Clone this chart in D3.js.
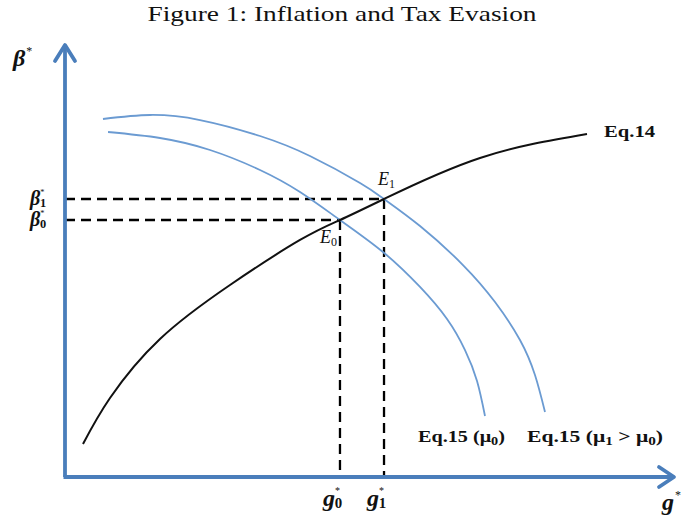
<!DOCTYPE html>
<html>
<head>
<meta charset="utf-8">
<script src="https://cdn.jsdelivr.net/npm/d3@7"></script>
<style>
  body { margin: 0; background: #fff; }
  svg { display: block; }
  .lbl { font-family: "Liberation Serif", "DejaVu Serif", serif; font-weight: bold; fill: #111; }
</style>
</head>
<body>
<svg id="chart" width="682" height="519"></svg>
<script>
// curves in abstract units (0..100 on each axis)
const eq14 = [[3,7.67],[7.5,18.37],[15.83,32.09],[27.5,44.65],[39.17,55.12],[45.83,59.77],[53.17,64.65],[69.17,74.19],[87,79.77]];
const eq15mu0 = [[7.17,80.23],[15.83,78.84],[24.17,76.05],[32.5,71.4],[39.17,66.28],[45.83,59.77],[53,52.33],[59.17,44.19],[63.67,36.74],[66.67,29.53],[68.67,22.33],[70,14.19]];
const eq15mu1 = [[6.33,83.26],[14.17,84.19],[22.5,83.02],[32.5,79.3],[40.83,74.65],[49.17,68.37],[53.17,64.65],[59.17,58.37],[66.33,49.3],[71.67,40.7],[75.83,31.86],[78.33,23.72],[80,15.12]];
const equilibria = [{name: "0", g: 45.83, b: 59.77}, {name: "1", g: 53.17, b: 64.65}];
const title = "Figure 1: Inflation and Tax Evasion";

const svg = d3.select("#chart");
const x = d3.scaleLinear().domain([0, 100]).range([65, 665]);
const y = d3.scaleLinear().domain([0, 100]).range([477, 47]);

svg.append("text")
  .attr("x", 342).attr("y", 21)
  .attr("text-anchor", "middle")
  .attr("textLength", 389).attr("lengthAdjust", "spacingAndGlyphs")
  .style("font-family", "'Liberation Serif', serif")
  .style("font-size", "22px")
  .style("fill", "#111")
  .text(title);

const line = d3.line().x(d => x(d[0])).y(d => y(d[1])).curve(d3.curveNatural);

// dashed guides
equilibria.forEach(e => {
  svg.append("line")
    .attr("x1", x(0)).attr("x2", x(e.g))
    .attr("y1", y(e.b)).attr("y2", y(e.b))
    .attr("stroke", "#000").attr("stroke-width", 2.3).attr("stroke-dasharray", "10,6");
  svg.append("line")
    .attr("x1", x(e.g)).attr("x2", x(e.g))
    .attr("y1", y(e.b)).attr("y2", y(0))
    .attr("stroke", "#000").attr("stroke-width", 2.3).attr("stroke-dasharray", "10,6");
});

svg.append("path").datum(eq15mu0).attr("d", line)
  .attr("fill", "none").attr("stroke", "#6b9bd2").attr("stroke-width", 1.8);
svg.append("path").datum(eq15mu1).attr("d", line)
  .attr("fill", "none").attr("stroke", "#6b9bd2").attr("stroke-width", 1.8);
svg.append("path").datum(eq14).attr("d", line)
  .attr("fill", "none").attr("stroke", "#111").attr("stroke-width", 2);

// axes
const axCol = "#4a7ebb";
svg.append("line").attr("x1", x(0)).attr("y1", y(0)).attr("x2", x(0)).attr("y2", y(100) - 2)
  .attr("stroke", axCol).attr("stroke-width", 3.8);
svg.append("line").attr("x1", x(0) - 1.5).attr("y1", y(0)).attr("x2", x(101.5)).attr("y2", y(0))
  .attr("stroke", axCol).attr("stroke-width", 3.8);
svg.append("polyline")
  .attr("points", [[x(0) - 10, y(100) + 14], [x(0), y(100) - 2], [x(0) + 10, y(100) + 14]].join(" "))
  .attr("fill", "none").attr("stroke", axCol).attr("stroke-width", 3.8).attr("stroke-linejoin", "round").attr("stroke-linecap", "round");
svg.append("polyline")
  .attr("points", [[x(101.5) - 15, y(0) - 10], [x(101.5), y(0)], [x(101.5) - 15, y(0) + 10]].join(" "))
  .attr("fill", "none").attr("stroke", axCol).attr("stroke-width", 3.8).attr("stroke-linejoin", "round").attr("stroke-linecap", "round");

// symbols with star and optional subscript
function sym(px, py, base, sub, size) {
  const t = svg.append("text").attr("class", "lbl").attr("x", px).attr("y", py)
    .style("font-size", size + "px").style("font-style", "italic");
  t.append("tspan").text(base);
  if (sub !== null) {
    t.append("tspan").attr("dx", 0).attr("dy", -size * 0.5).style("font-size", (size * 0.42) + "px").style("font-style", "normal").style("font-weight", "normal").text("*");
    t.append("tspan").attr("dx", -size * 0.22).attr("dy", size * 0.58).style("font-size", (size * 0.62) + "px").style("font-style", "normal").text(sub);
  } else {
    t.append("tspan").attr("dx", 1).attr("dy", -size * 0.45).style("font-size", (size * 0.5) + "px").style("font-style", "normal").style("font-weight", "normal").text("*");
  }
  return t;
}
sym(13, 66, "β", null, 24);
sym(662, 510, "g", null, 24);

equilibria.forEach(e => {
  sym(30, y(e.b) + 6, "β", e.name, 20);
  sym(x(e.g) - 17, 506, "g", e.name, 24);
});

// equilibrium labels
const eLab = [{e: equilibria[1], dx: -6, dy: -14}, {e: equilibria[0], dx: -20, dy: 23}];
eLab.forEach(o => {
  const t = svg.append("text").attr("class", "lbl")
    .attr("x", x(o.e.g) + o.dx).attr("y", y(o.e.b) + o.dy)
    .style("font-size", "18px").style("font-style", "italic").style("font-weight", "normal");
  t.append("tspan").text("E");
  t.append("tspan").attr("dy", 3).style("font-size", "12px").style("font-style", "normal").text(o.e.name);
});

// curve labels
const last = eq14[eq14.length - 1];
svg.append("text").attr("class", "lbl").attr("x", x(last[0]) + 17).attr("y", y(last[1]) + 3)
  .attr("textLength", 51).attr("lengthAdjust", "spacingAndGlyphs")
  .style("font-size", "17px").text("Eq.14");
const l0 = svg.append("text").attr("class", "lbl").attr("x", 418).attr("y", 442).style("font-size", "17px")
  .attr("textLength", 87).attr("lengthAdjust", "spacingAndGlyphs");
l0.append("tspan").text("Eq.15 (μ");
l0.append("tspan").attr("dy", 3).style("font-size", "12px").text("0");
l0.append("tspan").attr("dy", -3).text(")");
const l1 = svg.append("text").attr("class", "lbl").attr("x", 527).attr("y", 442).style("font-size", "17px")
  .attr("textLength", 136).attr("lengthAdjust", "spacingAndGlyphs");
l1.append("tspan").text("Eq.15 (μ");
l1.append("tspan").attr("dy", 3).style("font-size", "12px").text("1");
l1.append("tspan").attr("dy", -3).text(" > μ");
l1.append("tspan").attr("dy", 3).style("font-size", "12px").text("0");
l1.append("tspan").attr("dy", -3).text(")");
</script>
</body>
</html>
